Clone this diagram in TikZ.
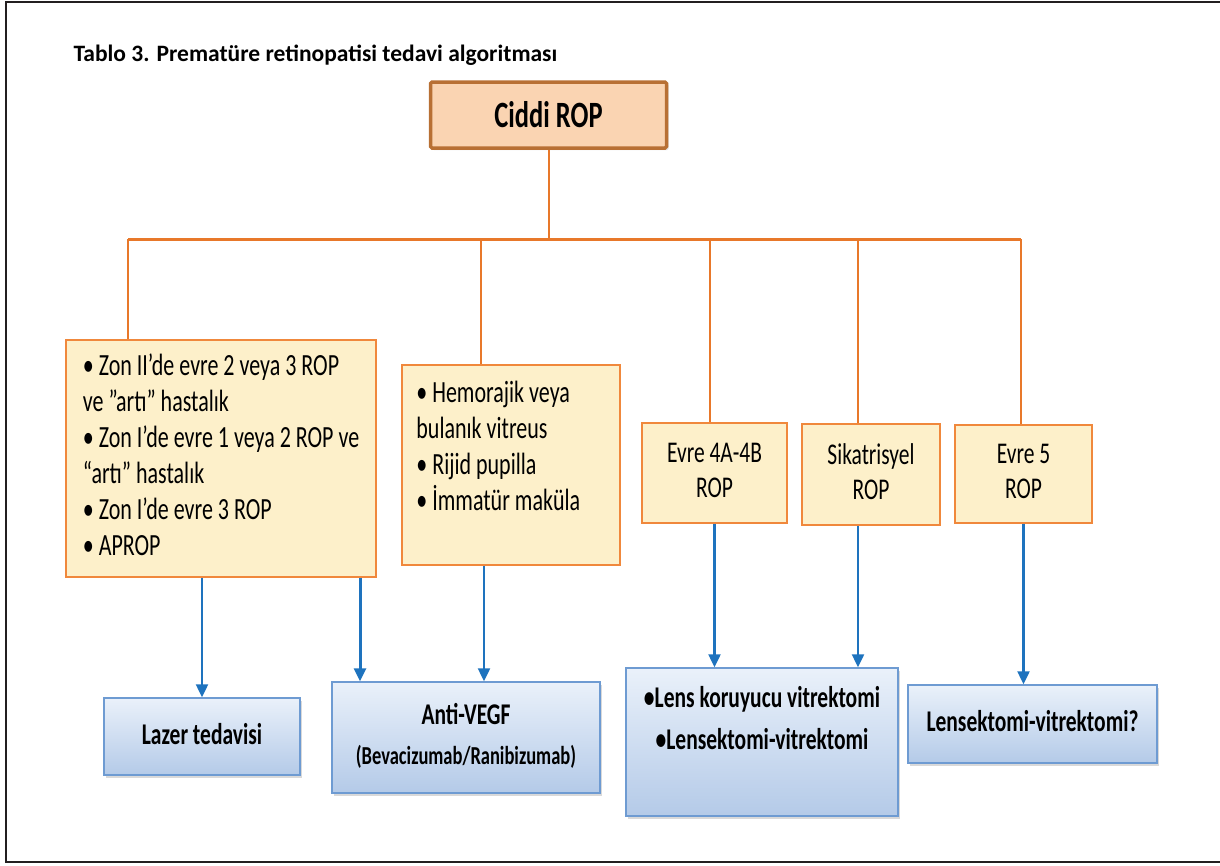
\documentclass[tikz,border=0pt]{standalone}
\usepackage{fontspec}
\setmainfont{Carlito}
\usepackage{graphicx}
\usetikzlibrary{arrows.meta, positioning, calc, shadows}
\definecolor{ropline}{RGB}{232,120,42}
\definecolor{ropbrown}{RGB}{184,112,52}
\definecolor{roppeach}{RGB}{250,212,178}
\definecolor{ropyellow}{RGB}{253,240,202}
\definecolor{ropedge}{RGB}{240,136,60}
\definecolor{ropblue}{RGB}{30,115,190}
\definecolor{boxblue}{RGB}{110,155,210}
\definecolor{bluetop}{RGB}{234,241,250}
\definecolor{bluebot}{RGB}{180,202,232}
\definecolor{framegray}{RGB}{35,31,32}
\newcommand{\tall}[1]{\scalebox{1}[1.4]{#1}}

\tikzset{
  topbox/.style={draw=ropbrown, line width=3.5pt, fill=roppeach, rounded corners=1.5pt,
    drop shadow={opacity=0.25, shadow xshift=2pt, shadow yshift=-2pt},
    font=\fontsize{26.5}{30}\selectfont\bfseries},
  yellowbox/.style={draw=ropedge, line width=1.6pt, fill=ropyellow,
    font=\fontsize{22}{25.7}\selectfont},
  bluebox/.style={draw=boxblue, line width=1.4pt, top color=bluetop, bottom color=bluebot,
    drop shadow={opacity=0.3, shadow xshift=2pt, shadow yshift=-2.5pt},
    font=\fontsize{21.5}{25}\selectfont\bfseries},
  boxtext/.style={inner sep=0pt},
  trunk/.style={draw=ropline, line width=2pt},
  busline/.style={draw=ropline, line width=3pt},
  feed/.style={draw=ropline, line width=1.6pt},
  arr/.style={draw=ropblue, line width=2.2pt, -{Triangle[width=12pt,length=13pt]}}
}

\begin{document}
\begin{tikzpicture}[x=1pt, y=-1pt]
  \useasboundingbox (0,0) rectangle (1220,865);
  % frame, open on the right
  \draw[framegray, line width=2.5pt] (1240,2) -- (6,2) -- (6,862) -- (1240,862);

  \node[anchor=west, font=\fontsize{23.5}{28}\selectfont\bfseries] (title) at (70,55)
    {Tablo 3. Prematüre retinopatisi tedavi algoritması};

  \node[topbox, minimum width=236pt, minimum height=66pt] (ciddi) at (548.5,115)
    {\tall{Ciddi ROP}};

  % bus
  \coordinate (a1) at (128,239);
  \coordinate (a2) at (481,239);
  \coordinate (a3) at (710,239);
  \coordinate (a4) at (858,239);
  \coordinate (a5) at (1021,239);
  \coordinate (bus) at (548.5,239);

  % indications
  \node[yellowbox, minimum width=310pt, minimum height=237pt] (z1) at (221,458.5)
    {\tall{\begin{tabular}{@{}l@{}}
      • Zon II’de evre 2 veya 3 ROP\\
      ve ”artı” hastalık\\
      • Zon I’de evre 1 veya 2 ROP ve\\
      “artı” hastalık\\
      • Zon I’de evre 3 ROP\\
      • APROP
    \end{tabular}}};
  \node[yellowbox, minimum width=218pt, minimum height=200pt] (z2) at (511,465) {};
  \node[boxtext, anchor=north west, font=\fontsize{22}{25.7}\selectfont] (z2t)
    at ([shift={(15pt,-13pt)}]z2.north west)
    {\tall{\begin{tabular}{@{}l@{}}
      • Hemorajik veya\\
      bulanık vitreus\\
      • Rijid pupilla\\
      • İmmatür maküla
    \end{tabular}}};
  \node[yellowbox, font=\fontsize{21.5}{25}\selectfont, minimum width=145pt, minimum height=100pt] (z3) at (714.5,473)
    {\tall{\begin{tabular}{@{}c@{}}Evre 4A-4B\\ROP\end{tabular}}};
  \node[yellowbox, font=\fontsize{21.5}{25}\selectfont, minimum width=138pt, minimum height=101pt] (z4) at (871,474.5)
    {\tall{\begin{tabular}{@{}c@{}}Sikatrisyel\\ROP\end{tabular}}};
  \node[yellowbox, font=\fontsize{21.5}{25}\selectfont, minimum width=137pt, minimum height=98pt] (z5) at (1023.5,474)
    {\tall{\begin{tabular}{@{}c@{}}Evre 5\\ROP\end{tabular}}};

  % treatments
  \node[bluebox, minimum width=196pt, minimum height=77pt] (lazer) at (202,736.5)
    {\raisebox{5pt}{\tall{Lazer tedavisi}}};
  \node[bluebox, minimum width=268pt, minimum height=111pt] (anti) at (466,737.5)
    {\tall{\begin{tabular}{@{}c@{}}Anti-VEGF\\[3pt]
      {\fontsize{18.5}{22}\selectfont(Bevacizumab/Ranibizumab)}\end{tabular}}};
  \node[bluebox, minimum width=272pt, minimum height=148pt] (lens) at (762,742) {};
  \node[boxtext, anchor=north, font=\fontsize{21.5}{30}\selectfont\bfseries] (lenst)
    at ([yshift=-11pt]lens.north)
    {\tall{\begin{tabular}{@{}c@{}}•Lens koruyucu vitrektomi\\•Lensektomi-vitrektomi\end{tabular}}};
  \node[bluebox, minimum width=249pt, minimum height=78pt] (lensek) at (1032.5,724)
    {\raisebox{7pt}{\tall{Lensektomi-vitrektomi?}}};

  % tree lines
  \draw[trunk] (ciddi.south) -- (bus);
  \draw[busline] (a1) -- (a5);
  \draw[feed] (a1) -- (a1 |- z1.north);
  \draw[feed] (a2) -- (a2 |- z2.north);
  \draw[feed] (a3) -- (a3 |- z3.north);
  \draw[feed] (a4) -- (a4 |- z4.north);
  \draw[feed] (a5) -- (a5 |- z5.north);

  % arrows
  \draw[arr] (z1.south -| lazer.north) -- (lazer.north);
  \draw[arr, line width=3pt] (z1.south -| 360,0) -- (anti.north -| 360,0);
  \draw[arr] (z2.south -| 484,0) -- (anti.north -| 484,0);
  \draw[arr] (z3.south) -- (z3.south |- lens.north);
  \draw[arr] (z4.south -| 858,0) -- (lens.north -| 858,0);
  \draw[arr] (z5.south) -- (z5.south |- lensek.north);
\end{tikzpicture}
\end{document}
